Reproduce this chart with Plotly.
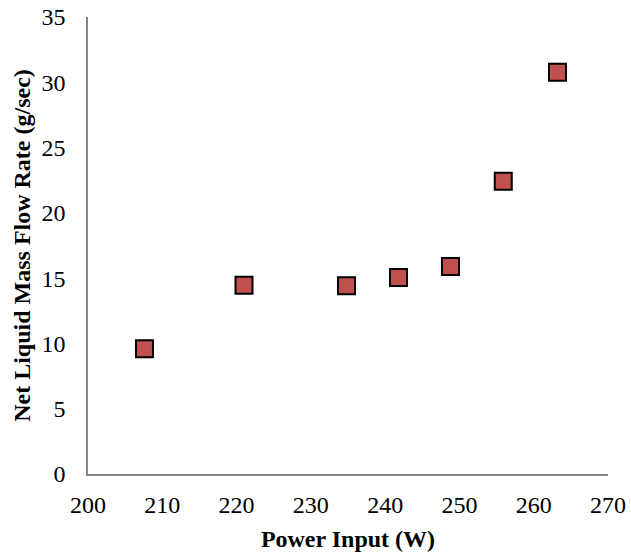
import plotly.graph_objects as go

# Measured power input and resulting net liquid mass flow rate
power_input_w = [207.6, 221.0, 234.8, 241.8, 248.8, 255.9, 263.2]
mass_flow_g_per_s = [9.6, 14.45, 14.42, 15.05, 15.9, 22.43, 30.76]

x_ticks = [200, 210, 220, 230, 240, 250, 260, 270]
y_ticks = [0, 5, 10, 15, 20, 25, 30, 35]

FONT = "Liberation Serif, Times New Roman, serif"

fig = go.Figure(
    go.Scatter(
        x=power_input_w,
        y=mass_flow_g_per_s,
        mode="markers",
        marker=dict(
            symbol="square",
            size=17,
            color="#C0504D",
            line=dict(color="#000000", width=2),
        ),
        showlegend=False,
    )
)

axis_common = dict(
    showgrid=False,
    zeroline=False,
    showline=True,
    linecolor="#868686",
    linewidth=1.5,
    ticks="",
    automargin=False,
    tickfont=dict(family=FONT, size=24, color="#000000"),
)

fig.update_xaxes(
    range=[200, 270],
    tickvals=x_ticks,
    ticklabelstandoff=8,
    title=dict(
        text="<b>Power Input (W)</b>",
        font=dict(family=FONT, size=24, color="#000000"),
        standoff=14,
    ),
    **axis_common,
)
fig.update_yaxes(
    range=[0, 35],
    tickvals=y_ticks,
    ticklabelstandoff=16,
    title=dict(
        text="<b>Net Liquid Mass Flow Rate (g/sec)</b>",
        font=dict(family=FONT, size=24, color="#000000"),
        standoff=4,
    ),
    **axis_common,
)

fig.update_layout(
    width=631,
    height=557,
    margin=dict(l=88, r=23, t=17, b=83),
    paper_bgcolor="#FFFFFF",
    plot_bgcolor="#FFFFFF",
)

fig.write_html("out.html")
